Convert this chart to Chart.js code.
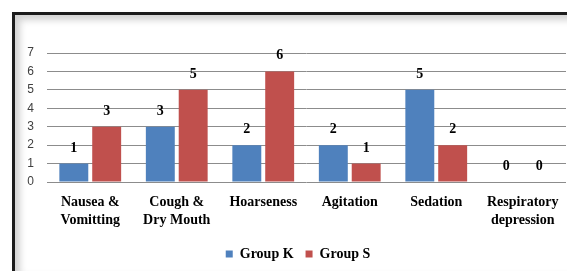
<!DOCTYPE html>
<html>
<head>
<meta charset="utf-8">
<script src="https://cdn.jsdelivr.net/npm/chart.js@4"></script>
<style>
  html, body { margin: 0; padding: 0; background: #fff; }
  #wrap { position: relative; width: 567px; height: 271px; overflow: hidden; }
  #frame {
    position: absolute; left: 12px; top: 12px; width: 570px; height: 256px;
    border-top: 3px solid #1c1c1c; border-left: 3px solid #1c1c1c;
    border-bottom: 1px solid #d8d8d8;
    box-shadow: inset 5px 5px 7px rgba(0,0,0,0.18);
  }
  #c { position: absolute; left: 0; top: 0; }
</style>
</head>
<body>
<div id="wrap">
  <div id="frame"></div>
  <canvas id="c" width="567" height="271"></canvas>
</div>
<script>
const categories = [['Nausea &', 'Vomitting'], ['Cough &', 'Dry Mouth'], 'Hoarseness', 'Agitation', 'Sedation', ['Respiratory', 'depression']];
const groupK = [1, 3, 2, 2, 5, 0];
const groupS = [3, 5, 6, 1, 2, 0];
const yTicks = [0, 1, 2, 3, 4, 5, 6, 7];

const serif = '"Liberation Serif", "Times New Roman", serif';

// value labels above each bar
const barLabels = {
    id: 'barLabels',
    afterDatasetsDraw(chart) {
        const ctx = chart.ctx;
        ctx.save();
        ctx.font = 'bold 14px ' + serif;
        ctx.fillStyle = '#000';
        ctx.textAlign = 'center';
        ctx.textBaseline = 'alphabetic';
        chart.data.datasets.forEach((ds, i) => {
            chart.getDatasetMeta(i).data.forEach((bar, j) => {
                ctx.fillText(String(ds.data[j]), bar.x, bar.y - 12);
            });
        });
        ctx.restore();
    }
};

// legend sits a bit right of the canvas centre, under the plot area
const legendShift = {
    id: 'legendShift',
    afterLayout(chart) {
        chart.legend.left += 15;
        chart.legend.right += 15;
    }
};

const ctx = document.getElementById('c');
const chart = new Chart(ctx, {
    type: 'bar',
    data: {
        labels: categories,
        datasets: [{
            label: 'Group K',
            data: groupK,
            backgroundColor: '#4f81bd',
            categoryPercentage: 0.76,
            barPercentage: 0.88
        },
        {
            label: 'Group S',
            data: groupS,
            backgroundColor: '#c0504d',
            categoryPercentage: 0.76,
            barPercentage: 0.88
        }]
    },
    options: {
        responsive: false,
        animation: false,
        layout: { padding: { top: 53, right: 1, left: 0, bottom: 0 } },
        plugins: {
            tooltip: { enabled: false },
            legend: {
                position: 'bottom',
                labels: {
                    boxWidth: 7,
                    boxHeight: 7,
                    padding: 12,
                    color: '#000',
                    font: { family: serif, size: 14, weight: 'bold' }
                }
            }
        },
        scales: {
            x: {
                grid: { display: false },
                border: { display: false },
                ticks: {
                    color: '#000',
                    padding: 3,
                    maxRotation: 0,
                    autoSkip: false,
                    font: { family: serif, size: 14, weight: 'bold', lineHeight: 1.3 }
                },
                afterFit(scale) { scale.height = 53; }
            },
            y: {
                min: 0,
                max: 7,
                afterBuildTicks(scale) { scale.ticks = yTicks.map(v => ({ value: v })); },
                grid: { color: '#8c8c8c', drawTicks: false },
                border: { display: false },
                ticks: {
                    color: '#404040',
                    padding: 13,
                    font: { family: '"Liberation Sans", Arial, sans-serif', size: 12 }
                },
                afterFit(scale) { scale.width = 47; }
            }
        }
    },
    plugins: [barLabels, legendShift]
});
</script>
</body>
</html>
